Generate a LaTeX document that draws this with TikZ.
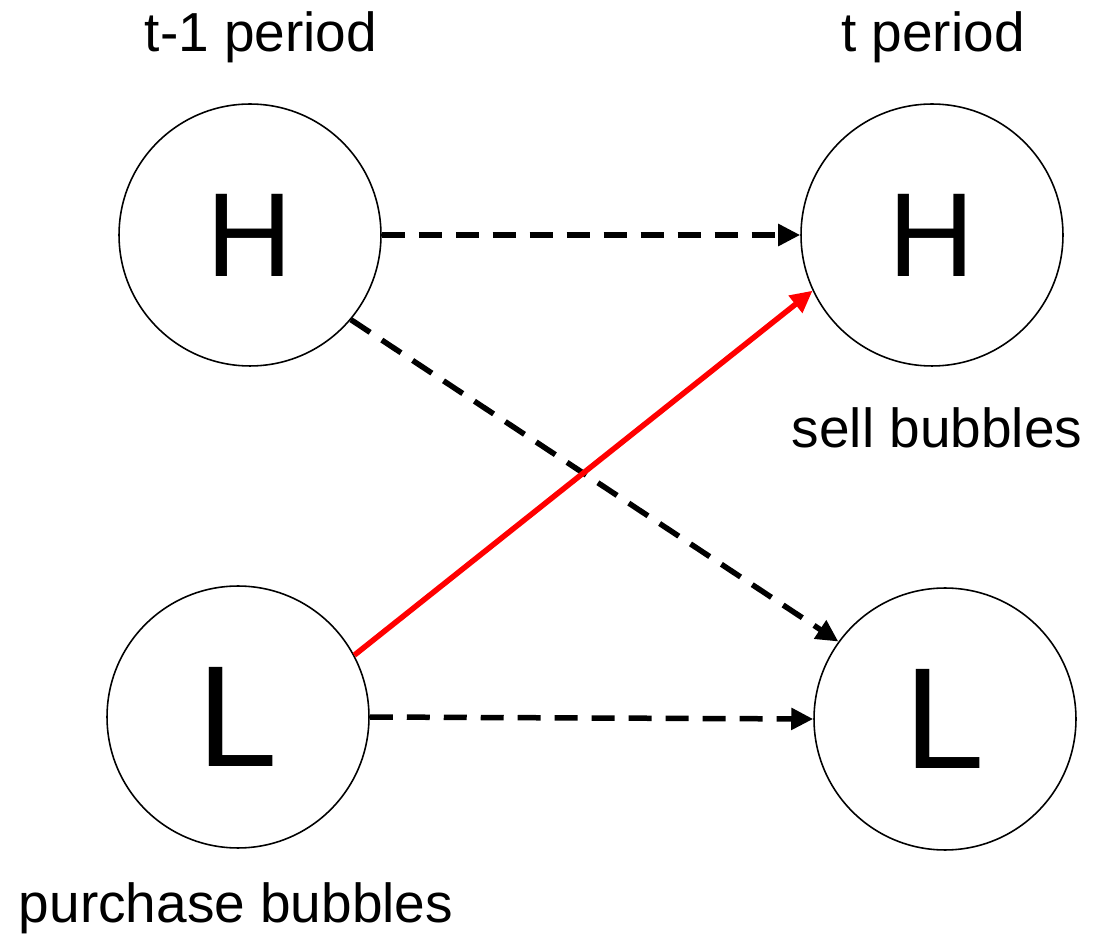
\documentclass[tikz,border=0pt]{standalone}
\usepackage{fontspec}
\setmainfont{Liberation Sans}
\usetikzlibrary{arrows.meta}
\begin{document}
\begin{tikzpicture}[x=0.02cm,y=-0.02cm,
  state/.style={draw=black, line width=0.9pt, circle, minimum size=5.24cm, inner sep=0pt},
  hfont/.style={font=\fontsize{68}{68}\selectfont},
  lfont/.style={font=\fontsize{82}{82}\selectfont},
  caption/.style={font=\fontsize{31.3}{31.3}\selectfont, anchor=base, inner sep=0pt},
  link/.style={line width=0.11cm, -{Triangle[length=0.44cm,width=0.42cm]}},
  dashlink/.style={link, dash pattern=on 0.46cm off 0.28cm},
  mover/.style={link, draw=red}]
  \useasboundingbox (0,0) rectangle (1093,942);

  % states in the two periods
  \node[state, hfont] (hl) at (250,235) {H};
  \node[state, lfont] (ll) at (238,717) {L};
  \node[state, hfont] (hr) at (932,235) {H};
  \node[state, lfont] (lr) at (945,719) {L};

  % period headings and actions
  \node[caption] (tl) at (261,52) {t-1 period};
  \node[caption] (tr) at (933,52) {t period};
  \node[caption] (sell) at (937,448) {sell bubbles};
  \node[caption] (buy) at (236,922) {purchase bubbles};

  % transitions between periods
  \draw[dashlink] (hl.east) -- (hr.west);
  \draw[dashlink] (hl.-40) -- (lr.144);
  \draw[dashlink] (ll.east) -- (lr.west);
  \draw[mover] (ll.28) -- (hr.205);
\end{tikzpicture}
\end{document}
